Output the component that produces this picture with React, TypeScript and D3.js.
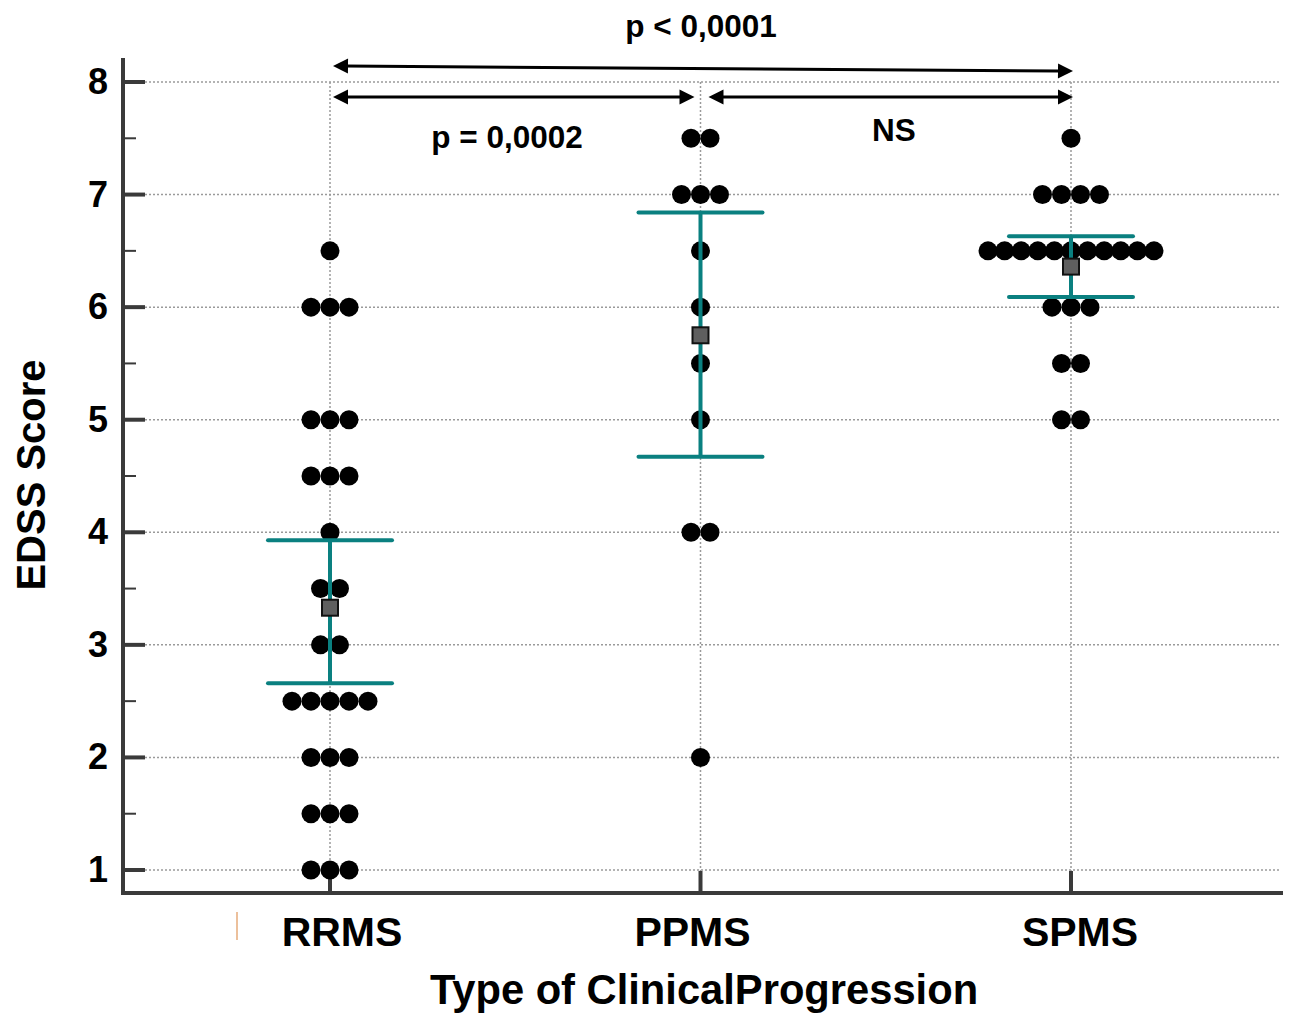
import React from "react";
import * as d3 from "d3";

const categories = ["RRMS", "PPMS", "SPMS"];
const rrmsScores = [6.5, 6, 6, 6, 5, 5, 5, 4.5, 4.5, 4.5, 4, 3.5, 3.5, 3, 3, 2.5, 2.5, 2.5, 2.5, 2.5, 2, 2, 2, 1.5, 1.5, 1.5, 1, 1, 1];
const ppmsScores = [7.5, 7.5, 7, 7, 7, 6.5, 6, 5.5, 5, 4, 4, 2];
const spmsScores = [7.5, 7, 7, 7, 7, 6.5, 6.5, 6.5, 6.5, 6.5, 6.5, 6.5, 6.5, 6.5, 6.5, 6.5, 6, 6, 6, 5.5, 5.5, 5, 5];
const groupMeans = [3.33, 5.75, 6.36];
const groupLower = [2.66, 4.67, 6.09];
const groupUpper = [3.93, 6.84, 6.63];
const yTicks = [1, 2, 3, 4, 5, 6, 7, 8];
const yMinorTicks = [1.5, 2.5, 3.5, 4.5, 5.5, 6.5, 7.5];
const comparisons = [
  { from: "RRMS", to: "SPMS", label: "p < 0,0001" },
  { from: "RRMS", to: "PPMS", label: "p = 0,0002" },
  { from: "PPMS", to: "SPMS", label: "NS" },
];

const W = 1290;
const H = 1014;
const FONT = "'Liberation Sans', Arial, sans-serif";
const AXIS = "#3a3a3a";
const TEAL = "#0a8080";

export default function App() {
  const y = d3.scaleLinear().domain([1, 8]).range([870, 82]);
  const x = d3.scalePoint<string>().domain(categories).range([330, 1071]);
  const axisLeft = 123;
  const axisBottom = 893;
  const axisRight = 1283;
  const axisTop = 58;
  const gridRight = 1280;

  const groups = [rrmsScores, ppmsScores, spmsScores];

  const dots: { cx: number; cy: number }[] = [];
  groups.forEach((scores, gi) => {
    const counts = d3.rollup(scores, (v) => v.length, (d) => d);
    counts.forEach((n, val) => {
      const sp = n > 6 ? 16.6 : 19;
      for (let i = 0; i < n; i++) {
        dots.push({ cx: (x(categories[gi]) as number) + (i - (n - 1) / 2) * sp, cy: y(val) });
      }
    });
  });

  const labelNudge = [12, -8, 9];

  const arrowHead = (tipX: number, tipY: number, dir: number, angle = 0) => {
    const L = 15, hw = 7.5;
    const ca = Math.cos(angle), sa = Math.sin(angle);
    const pts = [
      [0, 0],
      [-L * dir, -hw],
      [-L * dir, hw],
    ].map(([px, py]) => [tipX + px * ca - py * sa, tipY + px * sa + py * ca]);
    return <polygon points={pts.map((p) => p.join(",")).join(" ")} fill="#000" />;
  };

  const xr = x("RRMS") as number;
  const xp = x("PPMS") as number;
  const xs = x("SPMS") as number;

  const longY1 = 66, longY2 = 71;
  const longAngle = Math.atan2(longY2 - longY1, (xs + 2) - (xr + 3));
  const shortY = 97;

  return (
    <svg width={W} height={H} style={{ position: "absolute", left: 0, top: 0, background: "#fff" }} fontFamily={FONT}>
      <rect width={W} height={H} fill="#fff" />
      {/* gridlines */}
      {yTicks.map((t) => (
        <line key={"gh" + t} x1={axisLeft + 2} x2={gridRight} y1={y(t)} y2={y(t)} stroke="#9a9a9a" strokeWidth={1.5} strokeDasharray="2,2" />
      ))}
      {categories.map((c) => (
        <line key={"gv" + c} x1={x(c)} x2={x(c)} y1={y(8)} y2={axisBottom} stroke="#9a9a9a" strokeWidth={1.5} strokeDasharray="2,2" />
      ))}
      {/* axes */}
      <line x1={axisLeft} x2={axisLeft} y1={axisTop} y2={axisBottom + 2} stroke={AXIS} strokeWidth={4} />
      <line x1={axisLeft - 2} x2={axisRight} y1={axisBottom} y2={axisBottom} stroke={AXIS} strokeWidth={4} />
      {yTicks.map((t) => (
        <g key={"yt" + t}>
          <line x1={axisLeft} x2={axisLeft + 22} y1={y(t)} y2={y(t)} stroke={AXIS} strokeWidth={4} />
          <text x={108} y={y(t) + 12} textAnchor="end" fontSize={36} fontWeight="bold" fill="#000">
            {t}
          </text>
        </g>
      ))}
      {yMinorTicks.map((t) => (
        <line key={"ym" + t} x1={axisLeft} x2={axisLeft + 13} y1={y(t)} y2={y(t)} stroke={AXIS} strokeWidth={2} />
      ))}
      {categories.map((c, i) => (
        <g key={"xt" + c}>
          <line x1={x(c)} x2={x(c)} y1={axisBottom} y2={axisBottom - 22} stroke={AXIS} strokeWidth={4} />
          <text x={(x(c) as number) + labelNudge[i]} y={946} textAnchor="middle" fontSize={41} fontWeight="bold" fill="#000">
            {c}
          </text>
        </g>
      ))}
      <line x1={237} x2={237} y1={912} y2={940} stroke="#e0965a" strokeWidth={1.2} />
      {/* titles */}
      <text x={704} y={1004} textAnchor="middle" fontSize={41.7} fontWeight="bold" fill="#000">
        Type of ClinicalProgression
      </text>
      <text transform="translate(45,475) rotate(-90)" textAnchor="middle" fontSize={40} fontWeight="bold" fill="#000">
        EDSS Score
      </text>
      {/* dots */}
      {dots.map((d, i) => (
        <circle key={"d" + i} cx={d.cx} cy={d.cy} r={9.5} fill="#000" />
      ))}
      {/* error bars */}
      {categories.map((c, i) => {
        const cx = x(c) as number;
        return (
          <g key={"eb" + c}>
            <line x1={cx} x2={cx} y1={y(groupUpper[i])} y2={y(groupLower[i])} stroke={TEAL} strokeWidth={4} />
            <line x1={cx - 62} x2={cx + 62} y1={y(groupUpper[i])} y2={y(groupUpper[i])} stroke={TEAL} strokeWidth={4} strokeLinecap="round" />
            <line x1={cx - 62} x2={cx + 62} y1={y(groupLower[i])} y2={y(groupLower[i])} stroke={TEAL} strokeWidth={4} strokeLinecap="round" />
            <rect x={cx - 8} y={y(groupMeans[i]) - 8} width={16} height={16} fill="#5f5f5f" stroke="#111" strokeWidth={2} />
          </g>
        );
      })}
      {/* comparison arrows */}
      <g>
        <line x1={xr + 15} y1={longY1} x2={xs - 13} y2={longY2} stroke="#000" strokeWidth={3} />
        {arrowHead(xr + 3, longY1, -1, longAngle)}
        {arrowHead(xs + 2, longY2, 1, longAngle)}
        <text x={701} y={37} textAnchor="middle" fontSize={31.5} fontWeight="bold" fill="#000">
          {comparisons[0].label}
        </text>
      </g>
      <g>
        <line x1={xr + 15} y1={shortY} x2={xp - 20} y2={shortY} stroke="#000" strokeWidth={3} />
        {arrowHead(xr + 3, shortY, -1)}
        {arrowHead(xp - 6, shortY, 1)}
        <text x={507} y={148} textAnchor="middle" fontSize={31.5} fontWeight="bold" fill="#000">
          {comparisons[1].label}
        </text>
      </g>
      <g>
        <line x1={xp + 20} y1={shortY} x2={xs - 13} y2={shortY} stroke="#000" strokeWidth={3} />
        {arrowHead(xp + 8, shortY, -1)}
        {arrowHead(xs + 2, shortY, 1)}
        <text x={894} y={141} textAnchor="middle" fontSize={31.5} fontWeight="bold" fill="#000">
          {comparisons[2].label}
        </text>
      </g>
    </svg>
  );
}
